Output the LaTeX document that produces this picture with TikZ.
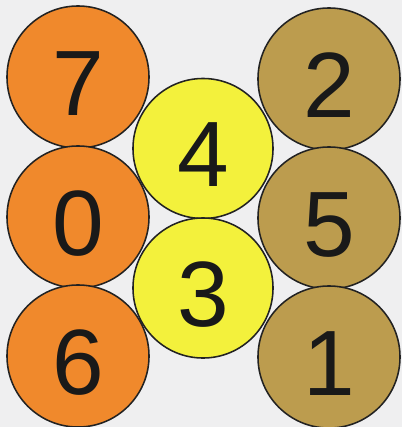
\documentclass[tikz,border=0pt]{standalone}
\usepackage{fontspec}
\setmainfont{Liberation Sans}
\definecolor{bgcol}{HTML}{EFEFF0}
\definecolor{orangeball}{HTML}{F0892C}
\definecolor{yellowball}{HTML}{F3F13C}
\definecolor{brownball}{HTML}{BC9C4E}
\definecolor{rimcol}{HTML}{222222}
\tikzset{
  ball/.style={circle,draw=rimcol,line width=1.1pt,minimum size=3.55cm,inner sep=0pt,
    text height=1.9cm,text depth=0pt,
    font=\fontsize{66}{66}\selectfont,text=black!90},
}
\begin{document}
\begin{tikzpicture}[x=0.025cm,y=-0.025cm]
\useasboundingbox (0,0) rectangle (402,427);
\clip (0,0) rectangle (402,427);
\fill[bgcol] (0,0) rectangle (402,427);
% left column
\node[ball,fill=orangeball] (seven) at (78,77) {7};
\node[ball,fill=orangeball] (zero) at (78,217) {0};
\node[ball,fill=orangeball] (six) at (78,356) {6};
% middle column
\node[ball,fill=yellowball,minimum size=3.5cm] (four) at (203,148.5) {4};
\node[ball,fill=yellowball,minimum size=3.5cm] (three) at (203,288) {3};
% right column
\node[ball,fill=brownball] (two) at (329,79) {2};
\node[ball,fill=brownball] (five) at (329,218) {5};
\node[ball,fill=brownball] (one) at (329,357) {1};
\end{tikzpicture}
\end{document}
